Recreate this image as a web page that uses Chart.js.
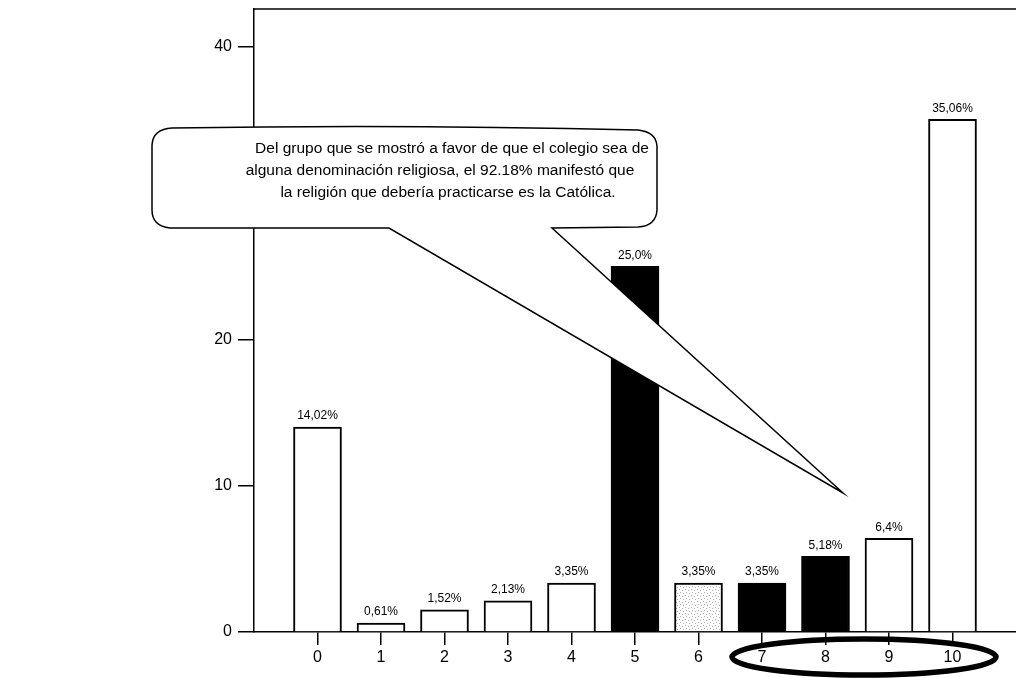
<!DOCTYPE html>
<html>
<head>
<meta charset="utf-8">
<script src="https://cdn.jsdelivr.net/npm/chart.js@4/dist/chart.umd.min.js"></script>
<style>
html, body { margin: 0; padding: 0; background: #fff; }
</style>
</head>
<body>
<canvas id="myChart" width="1016" height="678"></canvas>
<script>
// puntajes 0-10 y porcentaje de respuestas
var categories = [0, 1, 2, 3, 4, 5, 6, 7, 8, 9, 10];
var values = [14.02, 0.61, 1.52, 2.13, 3.35, 25.0, 3.35, 3.35, 5.18, 6.4, 35.06];
var valueLabels = ['14,02%', '0,61%', '1,52%', '2,13%', '3,35%', '25,0%', '3,35%', '3,35%', '5,18%', '6,4%', '35,06%'];
var yTicks = [0, 10, 20, 30, 40];
var calloutLines = [
    'Del grupo que se mostró a favor de que el colegio sea de',
    'alguna denominación religiosa, el 92.18% manifestó que',
    'la religión que debería practicarse es la Católica.'
];

// punteado gris para la barra 6
var dots = function () {
    var c = document.createElement('canvas');
    c.width = 6; c.height = 6;
    var g = c.getContext('2d');
    g.fillStyle = '#fff';
    g.fillRect(0, 0, 6, 6);
    g.fillStyle = '#aaa';
    g.fillRect(1, 1, 1, 1);
    g.fillRect(4, 2, 1, 1);
    g.fillRect(2, 4, 1, 1);
    g.fillRect(5, 5, 1, 1);
    return g.createPattern(c, 'repeat');
};

var fills = ['#fff', '#fff', '#fff', '#fff', '#fff', '#000', dots(), '#000', '#000', '#fff', '#fff'];

var points = [];
for (var i = 0; i < categories.length; i++) {
    points.push({x: categories[i], y: values[i]});
}

var font = 'Liberation Sans, Arial, sans-serif';

var valueLabelPlugin = {
    id: 'valueLabels',
    afterDatasetsDraw: function (chart) {
        var c = chart.ctx;
        var meta = chart.getDatasetMeta(0);
        c.save();
        c.fillStyle = '#000';
        c.font = '12px ' + font;
        c.textAlign = 'center';
        c.textBaseline = 'bottom';
        meta.data.forEach(function (bar, i) {
            c.fillText(valueLabels[i], bar.x, bar.y - 5);
        });
        c.restore();
    }
};

var framePlugin = {
    id: 'frame',
    afterDraw: function (chart) {
        var c = chart.ctx;
        var a = chart.chartArea;
        c.save();
        c.strokeStyle = '#000';
        c.lineWidth = 1.5;
        c.beginPath();
        c.moveTo(a.left, a.top);
        c.lineTo(a.right, a.top);
        c.stroke();

        // globo de texto
        c.beginPath();
        c.moveTo(172, 128);
        c.quadraticCurveTo(400, 124, 638, 130);
        c.quadraticCurveTo(656, 132, 657, 146);
        c.lineTo(657, 210);
        c.quadraticCurveTo(656, 226, 638, 227);
        c.lineTo(552, 228);
        c.lineTo(843, 493);
        c.lineTo(389, 228);
        c.lineTo(170, 228);
        c.quadraticCurveTo(152, 226, 152, 210);
        c.lineTo(152, 145);
        c.quadraticCurveTo(153, 129, 172, 128);
        c.closePath();
        c.fillStyle = '#fff';
        c.fill();
        c.stroke();

        c.fillStyle = '#000';
        c.font = '15.5px ' + font;
        c.textAlign = 'center';
        c.textBaseline = 'middle';
        var cx = [452, 440, 448];
        for (var i = 0; i < calloutLines.length; i++) {
            c.fillText(calloutLines[i], cx[i], 149 + i * 22);
        }

        // óvalo sobre 7-10
        c.lineWidth = 5.5;
        c.beginPath();
        c.ellipse(864, 657, 132, 18, 0, 0, Math.PI * 2);
        c.stroke();
        c.restore();
    }
};

var ctx = document.getElementById('myChart');
var myChart = new Chart(ctx, {
    type: 'bar',
    data: {
        datasets: [{
            data: points,
            backgroundColor: fills,
            borderColor: '#000',
            borderWidth: 2,
            barThickness: 48
        }]
    },
    options: {
        responsive: false,
        animation: false,
        devicePixelRatio: 1,
        layout: {padding: {left: 200, top: 9, right: 0, bottom: 0}},
        plugins: {
            legend: {display: false},
            tooltip: {enabled: false}
        },
        scales: {
            x: {
                type: 'linear',
                min: -1,
                max: 11,
                offset: false,
                afterBuildTicks: function (s) {
                    s.ticks = categories.map(function (v) { return {value: v}; });
                },
                afterFit: function (s) {
                    s.height = 46;
                    s.paddingLeft = 0;
                    s.paddingRight = 0;
                },
                ticks: {
                    color: '#000',
                    font: {family: font, size: 16},
                    autoSkip: false,
                    maxRotation: 0,
                    padding: 3
                },
                grid: {offset: false, drawOnChartArea: false, tickLength: 13, color: '#000', lineWidth: 1.5},
                border: {color: '#000', width: 1.5}
            },
            y: {
                min: 0,
                max: 42.6,
                afterBuildTicks: function (s) {
                    s.ticks = yTicks.map(function (v) { return {value: v}; });
                },
                afterFit: function (s) {
                    s.width = 54;
                    s.paddingTop = 0;
                    s.paddingBottom = 0;
                },
                ticks: {
                    color: '#000',
                    font: {family: font, size: 16},
                    padding: 6
                },
                grid: {drawOnChartArea: false, tickLength: 16, color: '#000', lineWidth: 1.5},
                border: {color: '#000', width: 1.5}
            }
        }
    },
    plugins: [valueLabelPlugin, framePlugin]
});
</script>
</body>
</html>
